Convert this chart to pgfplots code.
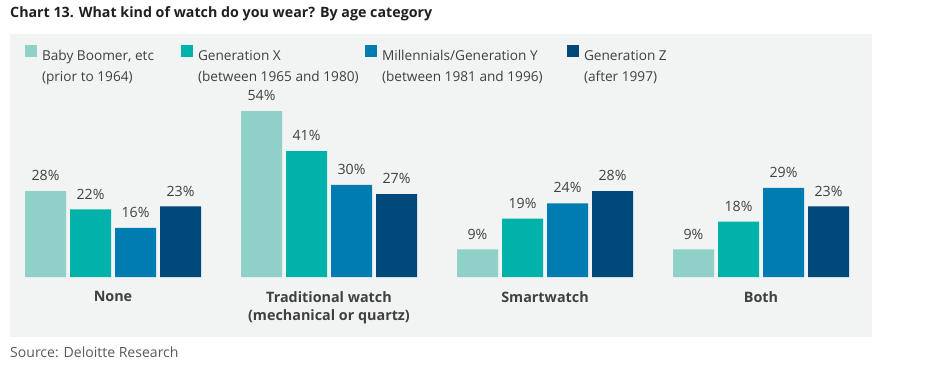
\documentclass[border=0pt]{standalone}
\usepackage{pgfplots}
\pgfplotsset{compat=1.18}
\usepackage{fontspec}
\setmainfont{Open Sans}
\definecolor{cA}{HTML}{8FD1C9}
\definecolor{cB}{HTML}{00B2A9}
\definecolor{cC}{HTML}{007CB0}
\definecolor{cD}{HTML}{00497A}
\definecolor{panel}{HTML}{F2F3F3}
\definecolor{titlecol}{HTML}{1F1F1F}
\definecolor{txt}{HTML}{404040}
\definecolor{srccol}{HTML}{5A5A5A}
\pgfplotsset{
  mylegend/.style={legend image code/.code={\fill[##1,draw=none] (0bp,-0.5bp) rectangle (12bp,11.5bp); \path (17bp,0bp);}}
}
\begin{document}
\begin{tikzpicture}[x=1bp,y=1bp]
\path[use as bounding box] (0,0) rectangle (952,373);
\fill[panel] (10,36) rectangle (872,339);
\node[anchor=base west, inner sep=0, text=titlecol, font=\bfseries\fontsize{14.3}{17}\selectfont] at (10,356) {Chart 13. What kind of watch do you wear? By age category};
\node[anchor=base west, inner sep=0, text=srccol, font=\fontsize{14.1}{16}\selectfont] at (10,16) {Source: Deloitte Research};
\begin{axis}[
  at={(5bp,96bp)}, anchor=south west, scale only axis,
  width=864bp, height=184.2bp,
  xmin=-0.5, xmax=3.5, ymin=0, ymax=60,
  /pgf/number format/assume math mode=true,
  axis line style={draw=none},
  ytick=\empty,
  xtick={0,1,2,3},
  xticklabels={None, {Traditional watch\\(mechanical or quartz)}, Smartwatch, Both},
  major tick length=0pt,
  tick style={draw=none},
  xticklabel style={font=\bfseries\fontsize{14.4}{17.5}\selectfont, text=txt, align=center, anchor=north, inner sep=0pt, yshift=-14.5bp},
  ybar, bar width=41bp,
  nodes near coords={\pgfmathprintnumber{\pgfplotspointmeta}\%},
  every node near coord/.append style={font=\fontsize{14.2}{16}\selectfont, text=txt, anchor=south, inner sep=0pt, yshift=10bp},
  legend columns=4,
  legend cell align=left,
  legend style={at={(axis description cs:0.02315,1.2595)}, anchor=north west, draw=none, fill=none, inner sep=0pt, outer sep=0pt, column sep=0pt, row sep=0pt, nodes={inner sep=0pt}, font=\fontsize{13.7}{20.5}\selectfont, text=txt},
]
\addplot[fill=cA, draw=none, bar shift=-67.5bp, mylegend] coordinates {(0,28) (1,54) (2,9) (3,9)};
\addlegendentry{\parbox[t]{139bp}{Baby Boomer, etc\\(prior to 1964)}}
\addplot[fill=cB, draw=none, bar shift=-22.5bp, mylegend] coordinates {(0,22) (1,41) (2,19) (3,18)};
\addlegendentry{\parbox[t]{167bp}{Generation X\\(between 1965 and 1980)}}
\addplot[fill=cC, draw=none, bar shift=22.5bp, mylegend] coordinates {(0,16) (1,30) (2,24) (3,29)};
\addlegendentry{\parbox[t]{185bp}{Millennials/Generation Y\\(between 1981 and 1996)}}
\addplot[fill=cD, draw=none, bar shift=67.5bp, mylegend] coordinates {(0,23) (1,27) (2,28) (3,23)};
\addlegendentry{\parbox[t]{150bp}{Generation Z\\(after 1997)}}
\end{axis}
\end{tikzpicture}
\end{document}
